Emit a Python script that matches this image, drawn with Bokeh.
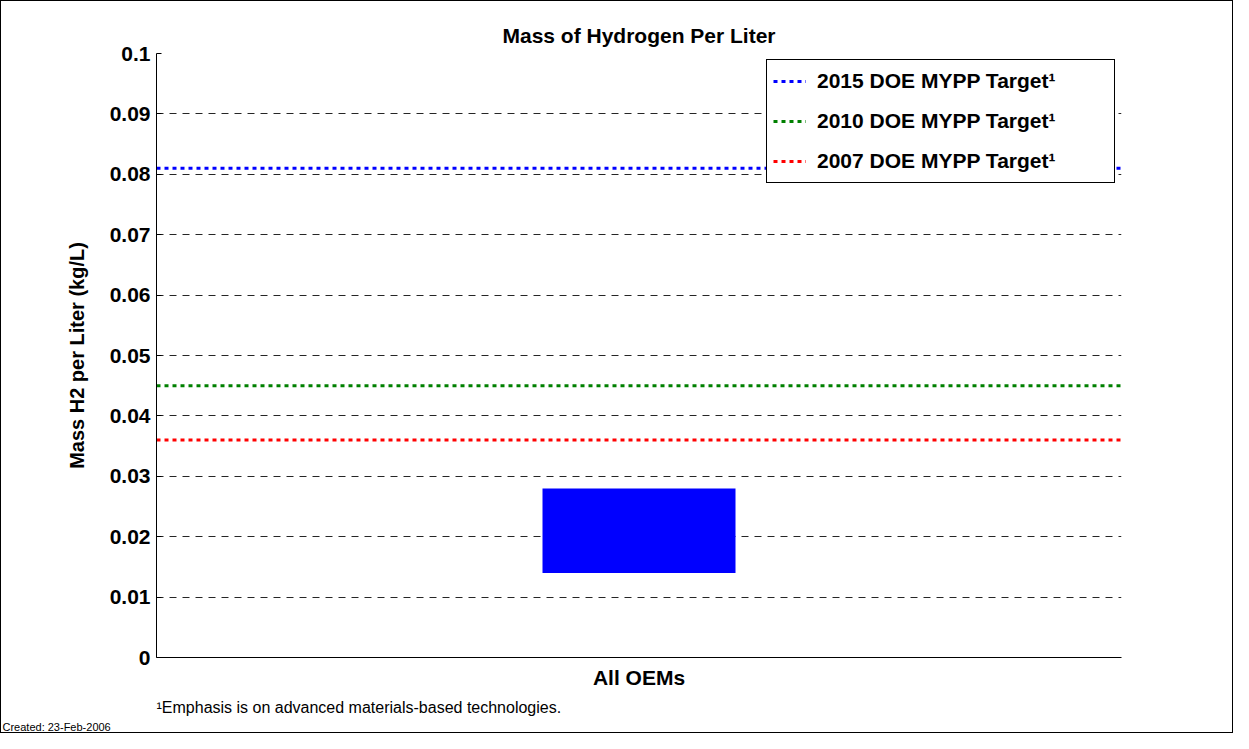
from bokeh.plotting import figure
from bokeh.models import FactorRange, Range1d, FixedTicker, Legend, LegendItem, Title
from bokeh.embed import file_html
from bokeh.resources import INLINE

# ---- data ----
categories = ["All OEMs"]
bar_low = [0.014]
bar_high = [0.028]
target_labels = ["2015 DOE MYPP Target\u00b9", "2010 DOE MYPP Target\u00b9", "2007 DOE MYPP Target\u00b9"]
target_values = [0.081, 0.045, 0.036]
target_colors = ["#0000FF", "#008000", "#FF0000"]
y_ticks = [0, 0.01, 0.02, 0.03, 0.04, 0.05, 0.06, 0.07, 0.08, 0.09, 0.1]
y_tick_labels = ["0", "0.01", "0.02", "0.03", "0.04", "0.05", "0.06", "0.07", "0.08", "0.09", "0.1"]
title_text = "Mass of Hydrogen Per Liter"
y_label = "Mass H2 per Liter (kg/L)"
footnote = "\u00b9Emphasis is on advanced materials-based technologies."
created = "Created: 23-Feb-2006"

FONT = "Liberation Sans"

p = figure(width=1233, height=733, output_backend="svg", toolbar_location=None,
           x_range=FactorRange(factors=categories), y_range=Range1d(0, 0.1),
           min_border_left=155, min_border_right=113, min_border_top=52, min_border_bottom=75)
p.styles = {"border": "1px solid black"}
p.outline_line_color = None
p.background_fill_color = "white"
p.border_fill_color = "white"

# title
p.title.text = title_text
p.title.align = "center"
p.title.text_font = FONT
p.title.text_font_style = "bold"
p.title.text_font_size = "21px"
p.title.text_color = "black"
p.title.standoff = 13

# grid
p.xgrid.visible = False
p.ygrid.grid_line_color = "black"
p.ygrid.grid_line_dash = "7 6"
p.ygrid.grid_line_width = 1
p.ygrid.grid_line_alpha = 0.85

# y axis
p.yaxis.ticker = FixedTicker(ticks=y_ticks)
p.yaxis.major_label_overrides = {t: l for t, l in zip(y_ticks, y_tick_labels)}
p.yaxis.major_label_text_font = FONT
p.yaxis.major_label_text_font_style = "bold"
p.yaxis.major_label_text_font_size = "21px"
p.yaxis.major_label_text_color = "black"
p.yaxis.major_label_standoff = 6
p.yaxis.major_tick_in = 5
p.yaxis.major_tick_out = 0
p.yaxis.minor_tick_in = 0
p.yaxis.minor_tick_out = 0
p.yaxis.axis_line_color = "black"
p.yaxis.major_tick_line_color = "black"
p.yaxis.axis_label = y_label
p.yaxis.axis_label_text_font = FONT
p.yaxis.axis_label_text_font_style = "bold"
p.yaxis.axis_label_text_font_size = "20px"
p.yaxis.axis_label_text_color = "black"
p.yaxis.axis_label_standoff = 19

# x axis
p.xaxis.major_label_text_font = FONT
p.xaxis.major_label_text_font_style = "bold"
p.xaxis.major_label_text_font_size = "21px"
p.xaxis.major_label_text_color = "black"
p.xaxis.major_label_standoff = 8
p.xaxis.major_tick_in = 0
p.xaxis.major_tick_out = 0
p.xaxis.axis_line_color = "black"

# bar
p.vbar(x=categories, width=0.2, bottom=bar_low, top=bar_high,
       fill_color="#0000FF", line_color=None)

# target lines
items = []
for lab, val, col in zip(target_labels, target_values, target_colors):
    r = p.line(x=[(categories[0], -0.5), (categories[0], 0.5)], y=[val, val],
               line_color=col, line_width=3, line_dash="4 4")
    items.append(LegendItem(label=lab, renderers=[r]))

legend = Legend(items=items, location="top_right")
legend.margin = 6
legend.padding = 6
legend.spacing = 10
legend.glyph_width = 33
legend.glyph_height = 30
legend.label_height = 30
legend.label_width = 291
legend.label_standoff = 11
legend.label_text_font = FONT
legend.label_text_font_style = "bold"
legend.label_text_font_size = "21px"
legend.label_text_color = "black"
legend.border_line_color = "black"
legend.border_line_width = 1
legend.border_line_alpha = 1
legend.background_fill_color = "white"
legend.background_fill_alpha = 1
p.add_layout(legend, "center")

# notes below
p.add_layout(Title(text=footnote, align="left", offset=0, standoff=10,
                   text_font=FONT, text_font_style="normal", text_font_size="16px",
                   text_color="black"), "below")
p.add_layout(Title(text=created, align="left", offset=-154, standoff=0,
                   vertical_align="top",
                   text_font=FONT, text_font_style="normal", text_font_size="11px",
                   text_color="black"), "below")

open("out.html", "w").write(file_html(p, INLINE))
